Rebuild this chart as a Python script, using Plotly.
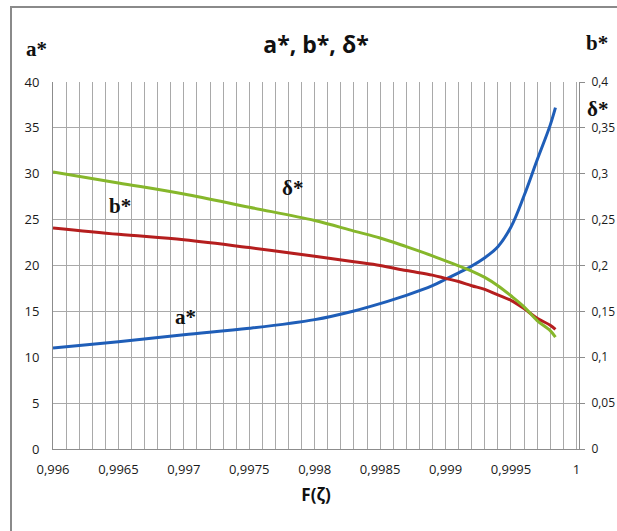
import plotly.graph_objects as go

# ---- data ----
x_vals = [0.996, 0.9965, 0.997, 0.9975, 0.998, 0.9983, 0.9985, 0.9987, 0.9989, 0.999,
          0.9991, 0.9992, 0.9993, 0.9994, 0.9995, 0.9996, 0.9997, 0.9998, 0.99984]
a_star = [11.0, 11.7, 12.45, 13.15, 14.1, 15.05, 15.85, 16.75, 17.8, 18.5,
          19.2, 19.95, 20.85, 22.05, 24.2, 27.6, 31.5, 35.3, 37.2]
b_star = [0.241, 0.234, 0.228, 0.2195, 0.210, 0.204, 0.200, 0.1945, 0.1895, 0.186,
          0.1825, 0.178, 0.174, 0.168, 0.162, 0.153, 0.1425, 0.135, 0.1305]
delta_star = [0.302, 0.290, 0.278, 0.2635, 0.249, 0.2375, 0.230, 0.2205, 0.2105, 0.205,
              0.1996, 0.194, 0.187, 0.178, 0.167, 0.155, 0.140, 0.129, 0.122]

x_tick_vals = [0.996, 0.9965, 0.997, 0.9975, 0.998, 0.9985, 0.999, 0.9995, 1.0]
x_tick_text = ["0,996", "0,9965", "0,997", "0,9975", "0,998", "0,9985", "0,999", "0,9995", "1"]
y_tick_vals = [0, 5, 10, 15, 20, 25, 30, 35, 40]
y_tick_text = ["0", "5", "10", "15", "20", "25", "30", "35", "40"]
y2_tick_vals = [0, 0.05, 0.1, 0.15, 0.2, 0.25, 0.3, 0.35, 0.4]
y2_tick_text = ["0", "0,05", "0,1", "0,15", "0,2", "0,25", "0,3", "0,35", "0,4"]

BLUE = "#1F5EB8"
RED = "#B51E1E"
GREEN = "#86B72B"
GRID = "#A9A9A9"
AXIS = "#8c8c8c"
TICKFONT = dict(family="Open Sans", size=13, color="#1a1a1a")
TICKFONT_R = dict(family="Open Sans", size=12, color="#1a1a1a")
SERIF = "Liberation Serif"

W, H = 617, 531
PL, PR, PT, PB = 53, 579, 82, 449  # plot area edges in figure pixels
PW, PH = PR - PL, PB - PT

def px(xp):
    return (xp - PL) / PW

def py(yp):
    return (PB - yp) / PH

fig = go.Figure()
line_common = dict(width=3, shape="spline", smoothing=1.0)
fig.add_trace(go.Scatter(x=x_vals, y=a_star, mode="lines", name="a*",
                         line=dict(color=BLUE, **line_common), yaxis="y"))
fig.add_trace(go.Scatter(x=x_vals, y=b_star, mode="lines", name="b*",
                         line=dict(color=RED, **line_common), yaxis="y2"))
fig.add_trace(go.Scatter(x=x_vals, y=delta_star, mode="lines", name="δ*",
                         line=dict(color=GREEN, **line_common), yaxis="y2"))

fig.update_layout(
    width=W, height=H,
    margin=dict(l=PL, r=W - PR, t=PT, b=H - PB, autoexpand=False),
    paper_bgcolor="white", plot_bgcolor="white",
    showlegend=False,
    title=dict(text="<b>a*, b*, δ*</b>", x=(PL + PR) / 2 / W, xanchor="center",
               y=1 - 45 / H, yanchor="middle",
               font=dict(family="Open Sans", size=23, color="#111")),
    xaxis=dict(range=[0.996, 1.00002], tickmode="array", tickvals=x_tick_vals,
               ticktext=x_tick_text, tickfont=TICKFONT, showgrid=True,
               gridcolor=GRID, gridwidth=1, automargin=False,
               minor=dict(dtick=0.0001, tick0=0.996, showgrid=True, gridcolor=GRID, gridwidth=1),
               showline=True, linecolor=AXIS, linewidth=1, ticks="",
               zeroline=False, ticklabelstandoff=8,
               title=dict(text="<b>F(ζ)</b>", font=dict(family="Open Sans", size=17, color="#111"),
                          standoff=12)),
    yaxis=dict(range=[0, 40], tickmode="array", tickvals=y_tick_vals, ticktext=y_tick_text,
               tickfont=TICKFONT, showgrid=True, gridcolor=GRID, gridwidth=1,
               showline=True, linecolor=AXIS, linewidth=1, ticks="", automargin=False,
               zeroline=False, ticklabelstandoff=10),
    yaxis2=dict(range=[0, 0.4], overlaying="y", side="right", tickmode="array",
                tickvals=y2_tick_vals, ticktext=y2_tick_text, tickfont=TICKFONT_R,
                showgrid=False, showline=True, linecolor=AXIS, linewidth=1,
                ticks="outside", ticklen=5, tickcolor=AXIS, zeroline=False,
                automargin=False, ticklabelstandoff=4),
)

# chart border
fig.add_shape(type="rect", xref="paper", yref="paper",
              x0=px(11), x1=px(W + 40), y0=py(H + 40), y1=py(7),
              line=dict(color="#8a8a8a", width=2), fillcolor="rgba(0,0,0,0)", layer="below")

ann_font = dict(family=SERIF, size=21, color="#111")
fig.add_annotation(text="<b>a*</b>", xref="paper", yref="paper",
                   x=px(36), y=py(49), showarrow=False,
                   xanchor="center", yanchor="middle", font=ann_font)
fig.add_annotation(text="<b>b*</b>", xref="paper", yref="paper",
                   x=px(597), y=py(43), showarrow=False,
                   xanchor="center", yanchor="middle", font=ann_font)
fig.add_annotation(text="<b>δ*</b>", xref="paper", yref="paper",
                   x=px(597), y=py(109), showarrow=False,
                   xanchor="center", yanchor="middle", font=ann_font)
# in-plot curve labels
fig.add_annotation(text="<b>δ*</b>", x=0.99783, y=28.4, showarrow=False, font=ann_font)
fig.add_annotation(text="<b>b*</b>", x=0.99651, y=26.5, showarrow=False, font=ann_font)
fig.add_annotation(text="<b>a*</b>", x=0.99701, y=14.4, showarrow=False, font=ann_font)

# remove the default page margin so the 617x531 figure fills the window exactly
fig.write_html("out.html",
               config={"displayModeBar": False},
               post_script="document.body.style.margin='0';document.body.style.overflow='hidden';")
